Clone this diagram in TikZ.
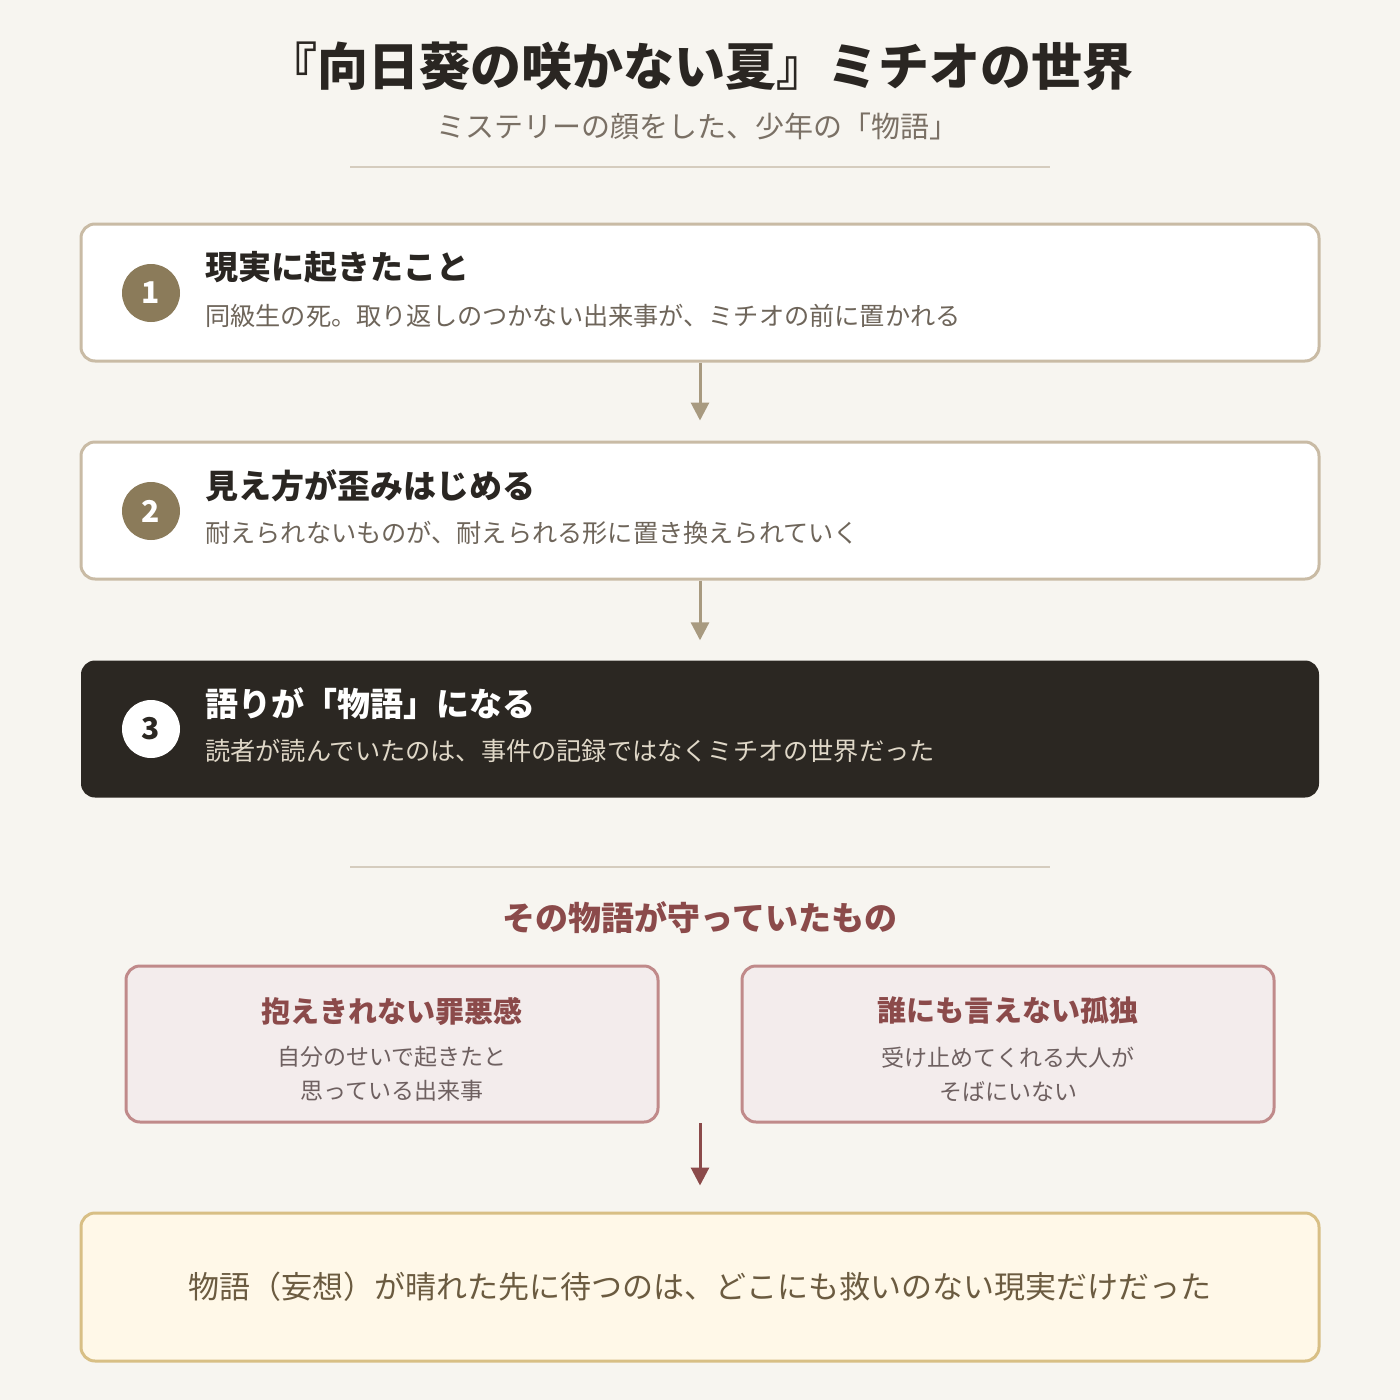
\documentclass[tikz,border=0pt]{standalone}
\usepackage{fontspec}
\setmainfont{Noto Sans CJK JP}
\usetikzlibrary{arrows.meta}
\definecolor{bgc}{HTML}{F7F5F0}
\definecolor{ink}{HTML}{2A2622}
\definecolor{subc}{HTML}{7A7065}
\definecolor{rulec}{HTML}{D5CCBE}
\definecolor{boxline}{HTML}{C9BBA5}
\definecolor{numc}{HTML}{8B7B5A}
\definecolor{descc}{HTML}{6E655A}
\definecolor{arrc}{HTML}{A89A80}
\definecolor{darkbox}{HTML}{2B2722}
\definecolor{darkdesc}{HTML}{E0D8C8}
\definecolor{redc}{HTML}{8B4A4A}
\definecolor{pinkfill}{HTML}{F3ECEC}
\definecolor{pinkline}{HTML}{C08A8A}
\definecolor{pinkdesc}{HTML}{6E6060}
\definecolor{creamfill}{HTML}{FFF8E8}
\definecolor{creamline}{HTML}{D8BF85}
\definecolor{creamtext}{HTML}{6B5B40}
\tikzset{
  stagebox/.style={draw=boxline, line width=3pt, fill=white, rounded corners=14pt},
  darkstage/.style={fill=darkbox, rounded corners=14pt},
  numcirc/.style={circle, fill=numc, minimum size=58pt, inner sep=0pt, text=white, font=\bfseries\fontsize{30}{30}\selectfont},
  numcircw/.style={circle, fill=white, minimum size=58pt, inner sep=0pt, text=darkbox, font=\bfseries\fontsize{30}{30}\selectfont},
  stitle/.style={anchor=west, inner sep=0pt, text=ink, font=\bfseries\fontsize{33}{33}\selectfont},
  sdesc/.style={anchor=west, inner sep=0pt, text=descc, font=\fontsize{25.2}{25}\selectfont},
  flowarrow/.style={draw=arrc, line width=3pt, -{Triangle[length=18pt,width=18pt]}},
  redarrow/.style={draw=redc, line width=3pt, -{Triangle[length=18pt,width=18pt]}},
  pinkbox/.style={draw=pinkline, line width=3pt, fill=pinkfill, rounded corners=14pt},
  ptitle/.style={inner sep=0pt, text=redc, font=\bfseries\fontsize{29}{29}\selectfont},
  pdesc/.style={inner sep=0pt, text=pinkdesc, align=center, font=\fontsize{23}{34}\selectfont},
  rulel/.style={draw=rulec, line width=2pt},
}
\begin{document}
\begin{tikzpicture}[x=1pt,y=-1pt]
\fill[bgc] (0,0) rectangle (1400,1400);
\useasboundingbox (0,0) rectangle (1400,1400);
% title
\node[inner sep=0pt, text=ink, font=\bfseries\fontsize{51}{51}\selectfont] (title) at (700,66) {『向日葵の咲かない夏』ミチオの世界};
\node[inner sep=0pt, text=subc, font=\fontsize{29}{29}\selectfont] (sub) at (697,126) {ミステリーの顔をした、少年の「物語」};
\coordinate (r1a) at (350,167); \coordinate (r1b) at (1050,167);
\draw[rulel] (r1a) -- (r1b);
% stage 1
\node[stagebox, minimum width=1238pt, minimum height=137pt] (b1) at (700,292.5) {};
\node[numcirc] (n1) at (151,293) {1};
\node[stitle] (t1) at (205,267) {現実に起きたこと};
\node[sdesc] (d1) at (205,316) {同級生の死。取り返しのつかない出来事が、ミチオの前に置かれる};
% stage 2
\node[stagebox, minimum width=1238pt, minimum height=137pt] (b2) at (700,510.5) {};
\node[numcirc] (n2) at (151,511) {2};
\node[stitle] (t2) at (205,486) {見え方が歪みはじめる};
\node[sdesc] (d2) at (205,533) {耐えられないものが、耐えられる形に置き換えられていく};
% stage 3
\node[darkstage, minimum width=1238pt, minimum height=137pt] (b3) at (700,729) {};
\node[numcircw] (n3) at (151,729) {3};
\node[stitle, text=white] (t3) at (205,704) {語りが「物語」になる};
\node[sdesc, text=darkdesc] (d3) at (205,751) {読者が読んでいたのは、事件の記録ではなくミチオの世界だった};
\draw[flowarrow] (b1.south) -- ([yshift=20pt]b2.north);
\draw[flowarrow] (b2.south) -- ([yshift=20pt]b3.north);
% section
\coordinate (r2a) at (350,867); \coordinate (r2b) at (1050,867);
\draw[rulel] (r2a) -- (r2b);
\node[inner sep=0pt, text=redc, font=\bfseries\fontsize{33}{33}\selectfont] (sec) at (700,918) {その物語が守っていたもの};
\node[pinkbox, minimum width=532pt, minimum height=156pt] (lb) at (392,1044) {};
\node[ptitle] (lt) at (392,1011) {抱えきれない罪悪感};
\node[pdesc] (ld) at (392,1074) {自分のせいで起きたと\\思っている出来事};
\node[pinkbox, minimum width=532pt, minimum height=156pt] (rb) at (1008,1044) {};
\node[ptitle] (rt) at (1008,1011) {誰にも言えない孤独};
\node[pdesc] (rd) at (1008,1074) {受け止めてくれる大人が\\そばにいない};
\coordinate (astart) at (700,1123);
\node[draw=creamline, line width=3pt, fill=creamfill, rounded corners=14pt, minimum width=1238pt, minimum height=148pt] (fb) at (700,1287) {};
\draw[redarrow] (astart) -- ([yshift=26pt]fb.north);
\node[inner sep=0pt, text=creamtext, font=\fontsize{31}{31}\selectfont] (ft) at (700,1287) {物語（妄想）が晴れた先に待つのは、どこにも救いのない現実だけだった};
\end{tikzpicture}
\end{document}
